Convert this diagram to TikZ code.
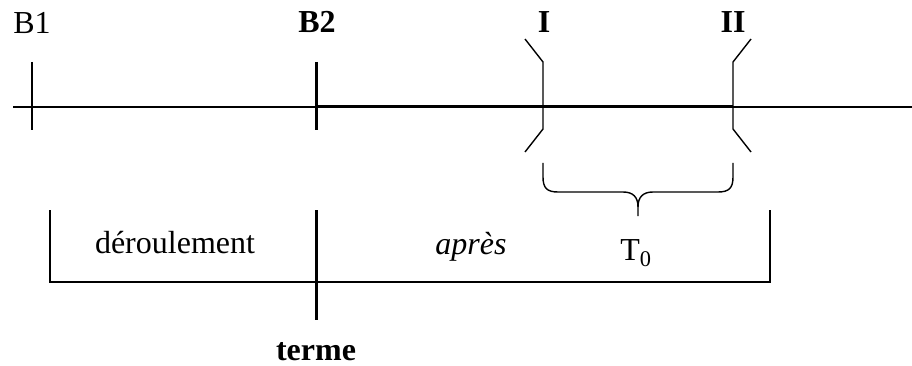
\documentclass[tikz,border=0pt]{standalone}
\usepackage{fontspec}
\setmainfont{Liberation Serif}
\usetikzlibrary{calc}

\begin{document}
\begin{tikzpicture}[x=1pt,y=-1pt,
  thinline/.style={line width=1.4pt},
  thickline/.style={line width=3pt},
  lbl/.style={font=\fontsize{32}{38}\selectfont,inner sep=0pt,anchor=base}]
\useasboundingbox (0,0) rectangle (912,366);
\coordinate (b1) at (32,107);
\coordinate (b2) at (316,107);
\coordinate (p1) at (543,107);
\coordinate (p2) at (733,107);
\coordinate (start) at (13,107);
\coordinate (end) at (912,107);
% axis
\draw[thinline] (start)--(end);
\draw[thickline] (b2)--(p2);
\draw[thinline] ($(b1)+(0,-45)$)--($(b1)+(0,23)$);
\draw[thickline] ($(b2)+(0,-45)$)--($(b2)+(0,23)$);
\draw[thinline] ($(p1)+(-18,-68)$)--($(p1)+(0,-45)$)--($(p1)+(0,22)$)--($(p1)+(-18,45)$);
\draw[thinline] ($(p2)+(18,-68)$)--($(p2)+(0,-45)$)--($(p2)+(0,22)$)--($(p2)+(18,45)$);
\node[lbl] (lb1) at (32,34) {B1};
\node[lbl,font=\fontsize{32}{38}\selectfont\bfseries] (lb2) at (317,33) {B2};
\node[lbl,font=\fontsize{32}{38}\selectfont\bfseries] (lp1) at (544,33) {I};
\node[lbl,font=\fontsize{32}{38}\selectfont\bfseries] (lp2) at (733,33) {II};
% brace
\draw[thinline] (543,163)--(543,177) .. controls (543,188) and (547,192) .. (558,192)
  --(623,192) .. controls (633,192) and (638,197) .. (638,207)--(638,216);
\draw[thinline] (733,163)--(733,177) .. controls (733,188) and (729,192) .. (718,192)
  --(653,192) .. controls (643,192) and (638,197) .. (638,207);
\node[lbl] (t0) at (636,260) {T\textsubscript{0}};
% lower frame
\draw[thinline] (50,210)--(50,282)--(770,282)--(770,210);
\draw[thickline] (316,210)--(316,320);
\node[lbl] (der) at (175,253) {déroulement};
\node[lbl,font=\fontsize{32}{38}\selectfont\itshape] (apr) at (471,254) {après};
\node[lbl,font=\fontsize{32}{38}\selectfont\bfseries] (trm) at (316,360) {terme};
\end{tikzpicture}
\end{document}
